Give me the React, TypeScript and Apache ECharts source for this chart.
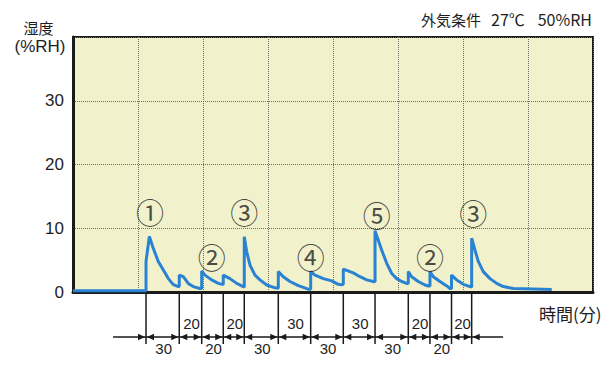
import React, { useEffect, useRef } from 'react';
import * as echarts from 'echarts';

// time (min) and humidity (%RH)
const times = [
  0, 67.4, 67.4, 70.5, 74.1, 78.7, 83.4, 88.0, 92.6, 97.2,
  98.1, 98.1, 101.8, 106.4, 111.0, 117.2,
  118.8, 118.8, 121.8, 128.0, 134.1, 137.8,
  138.7, 138.7, 144.9, 151.1, 157.2,
  158.1, 158.1, 160.3, 163.4, 168.0, 172.6, 178.8, 186.5,
  189.5, 189.5, 194.1, 200.3, 208.0, 217.2,
  219.4, 219.4, 223.4, 231.1, 238.8, 244.9, 248.0,
  249.5, 249.5, 258.7, 264.9, 271.1, 277.2,
  278.8, 278.8, 281.8, 285.0, 289.6, 294.2, 298.8, 303.4, 308.0,
  309.5, 309.5, 312.6, 318.7, 324.9, 328.0,
  329.5, 329.5, 332.6, 338.8, 345.0, 348.0,
  349.4, 349.4, 354.2, 360.3, 366.5,
  368.0, 368.0, 371.1, 374.1, 378.7, 384.9, 391.1, 397.2, 406.5, 441.9,
];
const humidity = [
  0.2, 0.2, 4.8, 8.7, 6.85, 4.8, 3.45, 2.1, 1.15, 0.85,
  0.85, 2.65, 2.4, 1.35, 0.85, 0.55,
  0.55, 3.3, 2.65, 1.9, 1.35, 1.2,
  1.15, 2.65, 2.1, 1.35, 0.85,
  0.75, 8.65, 6.35, 4.2, 2.65, 1.9, 1.1, 0.65,
  0.6, 3.2, 2.4, 1.65, 1.0, 0.45,
  0.45, 3.2, 2.65, 2.1, 1.75, 1.2, 1.15,
  1.2, 3.6, 3.0, 2.4, 1.9, 1.65,
  1.6, 9.6, 8.1, 6.55, 4.5, 2.9, 2.1, 1.65, 1.35,
  1.35, 3.2, 2.4, 1.65, 1.1, 0.95,
  0.95, 3.2, 2.4, 1.65, 0.95, 0.55,
  0.55, 2.65, 1.9, 1.2, 0.85,
  0.75, 8.45, 6.55, 4.8, 3.2, 2.1, 1.35, 0.85, 0.55, 0.4,
];

// circled markers over peaks
const markTexts = ['①', '②', '③', '④', '⑤', '②', '③'];
const markTimes = [71.1, 128.0, 158.1, 219.4, 280.3, 329.5, 369.5];
const markValues = [12.6, 5.54, 12.6, 5.44, 12.08, 5.54, 12.35];

// event times and interval dimension labels (minutes)
const eventTimes = [67.4, 98.1, 118.8, 138.7, 158.1, 189.5, 219.4, 249.5, 278.8, 309.5, 329.5, 349.4, 368.0];
const intervalLabels = ['30', '20', '20', '20', '30', '30', '30', '30', '30', '20', '20', '20'];
const leadStart = 37;
const trailEnd = 397;

const yTicks = [0, 10, 20, 30];

const CJK = '"Noto Sans CJK JP", sans-serif';
const LAT = '"Liberation Sans", Arial, sans-serif';
const INK = '#1a1a1a';
const TXT = '#1e1e1e';

export default function App() {
  const ref = useRef<HTMLDivElement>(null);
  useEffect(() => {
    const chart = echarts.init(ref.current!, null, { renderer: 'svg' });
    const lineData = times.map((t, i) => [t, humidity[i]]);
    const markData = markTimes.map((t, i) => [t, markValues[i]]);
    const segs: number[][] = [[leadStart, eventTimes[0]]];
    for (let i = 0; i < eventTimes.length - 1; i++) segs.push([eventTimes[i], eventTimes[i + 1]]);
    segs.push([eventTimes[eventTimes.length - 1], trailEnd]);

    const arrowHead = (x: number, y: number, dir: number) => ({
      type: 'polygon',
      shape: { points: [[x, y], [x - dir * 7, y - 3.2], [x - dir * 7, y + 3.2]] },
      style: { fill: INK },
    });

    chart.setOption({
      animation: false,
      grid: {
        left: 73, right: 21, top: 37, bottom: 76,
        show: true, backgroundColor: '#f1f2cc', borderColor: INK, borderWidth: 2,
      },
      xAxis: {
        type: 'value', min: 0, max: 480, interval: 60,
        axisLine: { show: true, lineStyle: { color: INK, width: 3 } },
        axisTick: { show: false },
        axisLabel: { show: false },
        splitLine: { show: true, lineStyle: { color: '#6e6e64', type: 'dotted', width: 1 } },
      },
      yAxis: {
        type: 'value', min: 0, max: 40, interval: 10,
        axisLine: { show: true, lineStyle: { color: INK, width: 3 } },
        axisTick: { show: false },
        axisLabel: {
          margin: 9, fontSize: 17, color: TXT, fontFamily: LAT,
          formatter: (v: number) => (yTicks.indexOf(v) >= 0 ? String(v) : ''),
        },
        splitLine: { show: true, lineStyle: { color: '#6e6e64', type: 'dotted', width: 1 } },
      },
      series: [
        {
          type: 'line', data: lineData, showSymbol: false, symbol: 'none',
          lineStyle: { color: '#2a82d3', width: 3 }, z: 3,
        },
        {
          type: 'scatter', data: markData, symbolSize: 1,
          itemStyle: { color: 'rgba(0,0,0,0)' },
          label: {
            show: true, position: 'inside', fontSize: 28, color: TXT, fontFamily: CJK,
            formatter: (p: any) => markTexts[p.dataIndex],
          },
          z: 4,
        },
        {
          type: 'custom', clip: false, z: 5,
          data: eventTimes.map((t) => [t, 0]),
          renderItem: (params: any, api: any) => {
            const p = api.coord([api.value(0), 0]);
            return {
              type: 'line',
              shape: { x1: p[0], y1: p[1] + 1, x2: p[0], y2: p[1] + 52 },
              style: { stroke: INK, lineWidth: 1.5 },
            };
          },
        },
        {
          type: 'custom', clip: false, z: 5,
          data: segs,
          encode: { x: [0, 1] },
          renderItem: (params: any, api: any) => {
            const idx = params.dataIndex;
            const a = api.coord([api.value(0), 0]);
            const b = api.coord([api.value(1), 0]);
            const y0 = a[1];
            const ay = y0 + 45;
            const children: any[] = [
              { type: 'line', shape: { x1: a[0], y1: ay, x2: b[0], y2: ay }, style: { stroke: INK, lineWidth: 1.5 } },
            ];
            if (idx === 0) {
              children.push(arrowHead(b[0] - 1, ay, 1));
            } else if (idx === segs.length - 1) {
              children.push(arrowHead(a[0] + 1, ay, -1));
            } else {
              children.push(arrowHead(a[0] + 1, ay, -1));
              children.push(arrowHead(b[0] - 1, ay, 1));
              const li = idx - 1;
              const below = li % 2 === 0;
              children.push({
                type: 'text',
                x: (a[0] + b[0]) / 2 + 1,
                y: below ? y0 + 56 : y0 + 31,
                style: {
                  text: intervalLabels[li], fontSize: 15, fontFamily: LAT, fill: TXT,
                  align: 'center', verticalAlign: 'middle',
                },
              });
            }
            return { type: 'group', children };
          },
        },
      ],
      graphic: [
        { type: 'text', x: 38.5, y: 27.5, style: { text: '湿度', fontSize: 15, fontFamily: CJK, fill: TXT, align: 'center', verticalAlign: 'middle' } },
        { type: 'text', x: 40, y: 46, style: { text: '(%RH)', fontSize: 17, fontFamily: LAT, fill: TXT, align: 'center', verticalAlign: 'middle' } },
        { type: 'text', x: 421, y: 19, style: { text: '外気条件', fontSize: 15, fontFamily: CJK, fill: TXT, align: 'left', verticalAlign: 'middle' } },
        { type: 'text', x: 491, y: 19, style: { text: '27℃', fontSize: 16, fontFamily: CJK, fill: TXT, align: 'left', verticalAlign: 'middle' } },
        { type: 'text', x: 592, y: 19, style: { text: '50%RH', fontSize: 16, fontFamily: CJK, fill: TXT, align: 'right', verticalAlign: 'middle' } },
        { type: 'text', x: 539, y: 313, style: { text: '時間(分)', fontSize: 17, fontFamily: CJK, fill: TXT, align: 'left', verticalAlign: 'middle' } },
      ],
    });
    return () => chart.dispose();
  }, []);
  return <div ref={ref} style={{ position: 'absolute', left: 0, top: 0, width: 614, height: 368 }} />;
}
